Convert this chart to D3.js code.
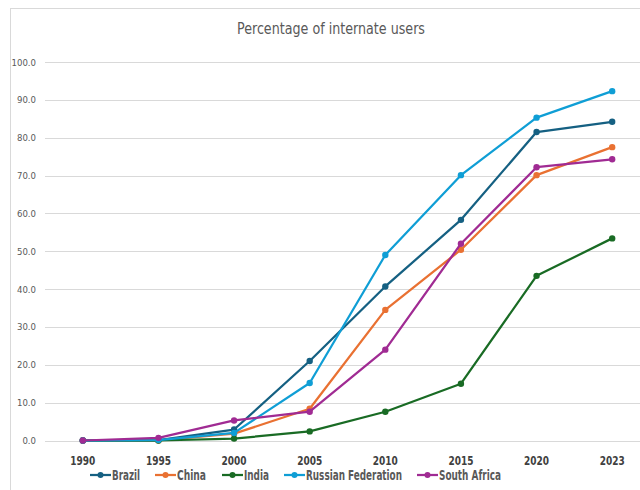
<!DOCTYPE html>
<html>
<head>
<meta charset="utf-8">
<script src="https://cdn.jsdelivr.net/npm/d3@7"></script>
<style>
  body { margin: 0; background: #fff; }
  text { font-family: "DejaVu Sans Condensed", "Roboto", sans-serif; }
</style>
</head>
<body>
<svg id="chart" width="640" height="490"></svg>
<script>
var years = ["1990", "1995", "2000", "2005", "2010", "2015", "2020", "2023"];
var seriesNames = ["Brazil", "China", "India", "Russian Federation", "South Africa"];
var brazil = [0.0, 0.1, 2.9, 21.0, 40.7, 58.3, 81.5, 84.2];
var china  = [0.0, 0.0, 1.8, 8.4, 34.5, 50.4, 70.1, 77.5];
var india  = [0.0, 0.0, 0.5, 2.4, 7.6, 15.0, 43.5, 53.4];
var russia = [0.0, 0.1, 2.0, 15.2, 49.0, 70.1, 85.3, 92.3];
var southAfrica = [0.0, 0.7, 5.3, 7.6, 24.0, 52.0, 72.2, 74.3];
var yTicks = [0, 10, 20, 30, 40, 50, 60, 70, 80, 90, 100];
var colors = ["#156082", "#E97132", "#196B24", "#0F9ED5", "#A02B93"];

var values = [brazil, china, india, russia, southAfrica];

var margin = {top: 62, right: -10, bottom: 49, left: 45}
  , width = 640 - margin.left - margin.right
  , height = 490 - margin.top - margin.bottom

var svg = d3.select("#chart");

// chart frame
svg.append("rect")
    .attr("x", 10.5)
    .attr("y", 8.5)
    .attr("width", 660)
    .attr("height", 500)
    .attr("fill", "none")
    .attr("stroke", "#d9d9d9");

svg.append("text")
    .attr("x", 331)
    .attr("y", 34)
    .attr("text-anchor", "middle")
    .attr("font-size", "15px")
    .attr("fill", "#595959")
    .attr("textLength", 188)
    .attr("lengthAdjust", "spacingAndGlyphs")
    .text("Percentage of internate users");

var g = svg.append("g")
    .attr("transform", "translate(" + margin.left + "," + margin.top + ")");

var x = d3.scaleBand()
    .domain(years)
    .range([0, 605]);

var y = d3.scaleLinear()
    .domain([0, 100])
    .range([height - 0.5, 0]);

// grid
g.selectAll(".grid")
    .data(yTicks)
  .enter().append("line")
    .attr("class", "grid")
    .attr("x1", 0)
    .attr("x2", width)
    .attr("y1", function(d) { return Math.round(y(d)) + 0.5; })
    .attr("y2", function(d) { return Math.round(y(d)) + 0.5; })
    .attr("stroke", "#d9d9d9")
    .attr("stroke-width", 1);

g.selectAll(".ytick")
    .data(yTicks)
  .enter().append("text")
    .attr("class", "ytick")
    .attr("x", -9)
    .attr("y", function(d) { return y(d) + 3.5; })
    .attr("text-anchor", "end")
    .attr("font-size", "9.5px")
    .attr("fill", "#595959")
    .text(function(d) { return d.toFixed(1); });

g.selectAll(".xtick")
    .data(years)
  .enter().append("text")
    .attr("class", "xtick")
    .attr("x", function(d) { return x(d) + x.bandwidth() / 2; })
    .attr("y", height + 24)
    .attr("text-anchor", "middle")
    .attr("font-size", "12.5px")
    .attr("font-weight", "bold")
    .attr("fill", "#404040")
    .attr("textLength", 25)
    .attr("lengthAdjust", "spacingAndGlyphs")
    .text(function(d) { return d; });

var line = d3.line()
    .x(function(d, i) { return x(years[i]) + x.bandwidth() / 2; })
    .y(function(d) { return y(d); });

values.forEach(function(vals, k) {
  var s = g.append("g").attr("class", "series");
  s.append("path")
      .datum(vals)
      .attr("d", line)
      .attr("fill", "none")
      .attr("stroke", colors[k])
      .attr("stroke-width", 2.25)
      .attr("stroke-linejoin", "round");
  s.selectAll("circle")
      .data(vals)
    .enter().append("circle")
      .attr("cx", function(d, i) { return x(years[i]) + x.bandwidth() / 2; })
      .attr("cy", function(d) { return y(d); })
      .attr("r", 3.2)
      .attr("fill", colors[k]);
});

// legend
var legendX = [90, 155, 222, 284, 417];
var legendW = [28, 29, 25, 96, 62];
var legend = svg.append("g");
seriesNames.forEach(function(name, k) {
  var lg = legend.append("g").attr("transform", "translate(" + legendX[k] + ",475)");
  lg.append("line")
      .attr("x1", 0).attr("x2", 21)
      .attr("y1", 0).attr("y2", 0)
      .attr("stroke", colors[k])
      .attr("stroke-width", 2.25);
  lg.append("circle")
      .attr("cx", 10.5).attr("cy", 0).attr("r", 3)
      .attr("fill", colors[k]);
  lg.append("text")
      .attr("x", 22)
      .attr("y", 5)
      .attr("font-size", "13.5px")
      .attr("font-weight", "bold")
      .attr("fill", "#595959")
      .attr("textLength", legendW[k])
      .attr("lengthAdjust", "spacingAndGlyphs")
      .text(name);
});
</script>
</body>
</html>
